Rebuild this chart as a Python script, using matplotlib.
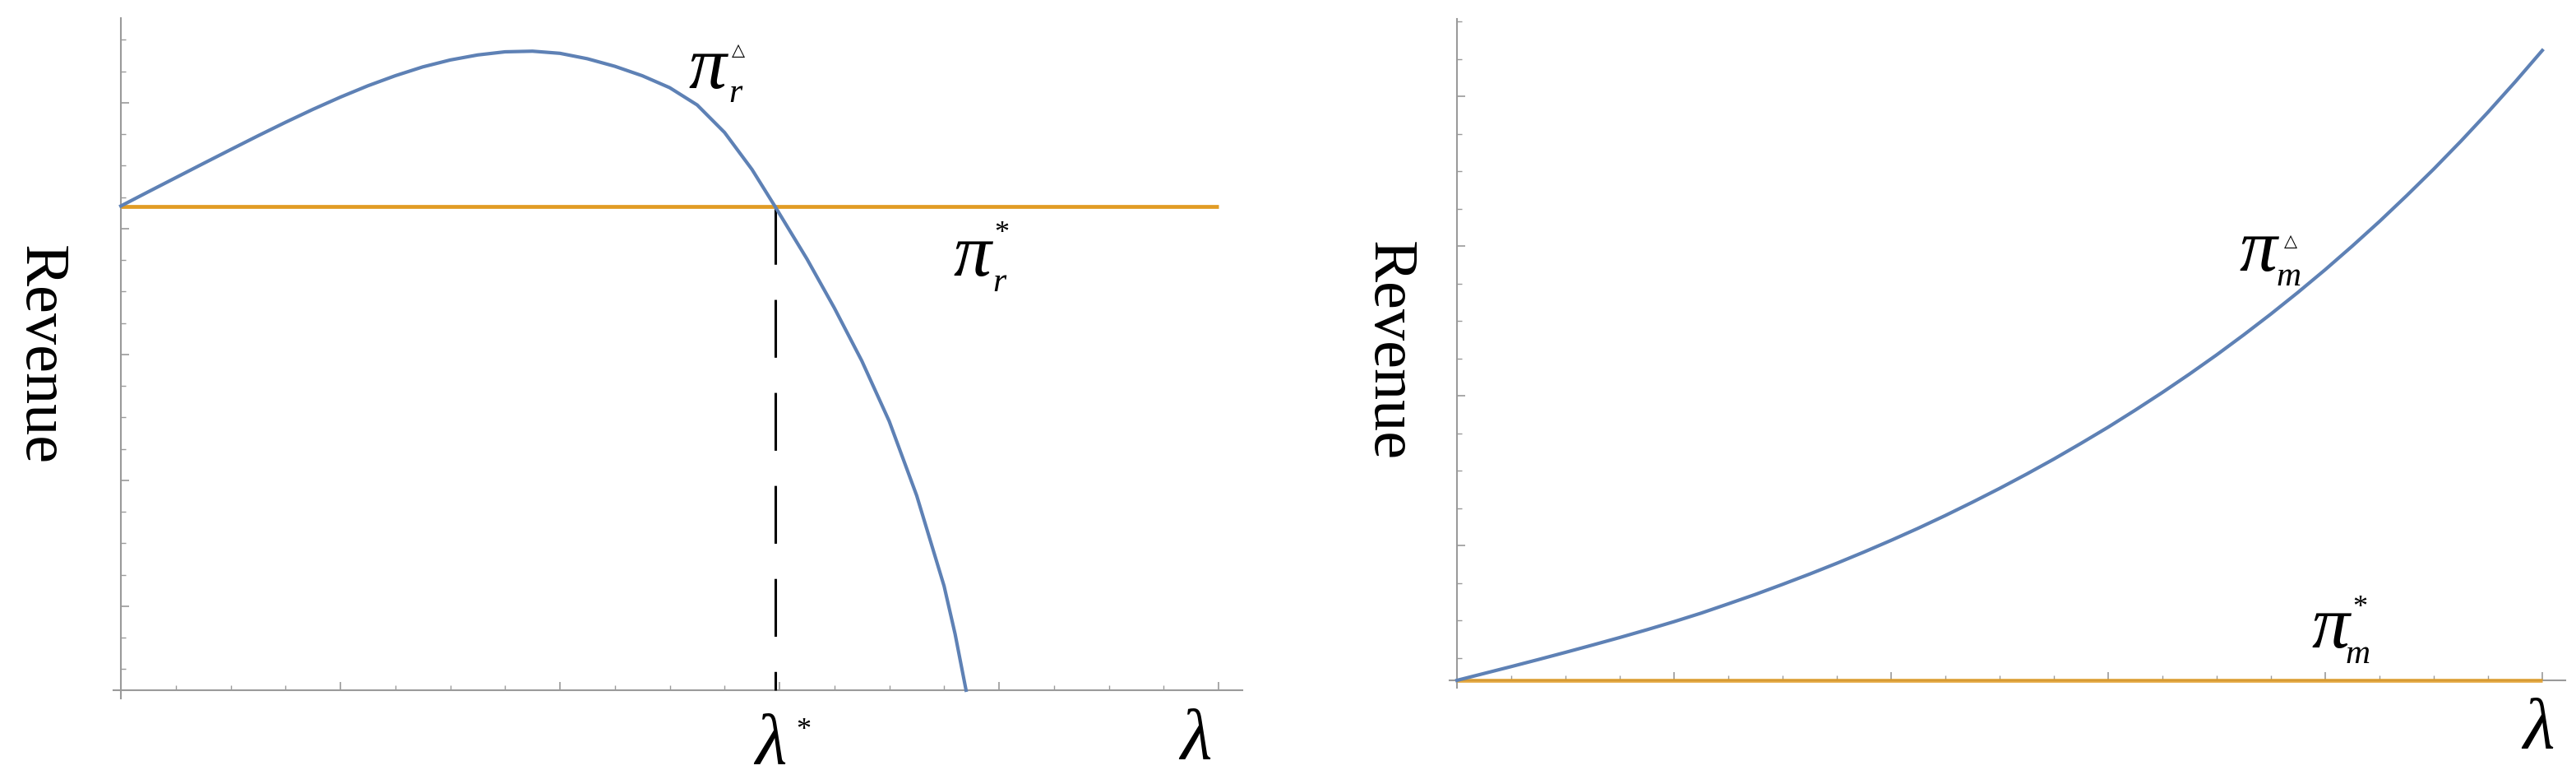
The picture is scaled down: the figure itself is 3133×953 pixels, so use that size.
import numpy as np
import matplotlib
matplotlib.use('Agg')
import matplotlib.pyplot as plt

# ---- data (lambda in tick units, revenue in tick units) ----
lam_left = [0, 0.125, 0.25, 0.375, 0.5, 0.625, 0.75, 0.875, 1.0, 1.125, 1.25, 1.375, 1.5,
            1.625, 1.75, 1.875, 2.0, 2.125, 2.25, 2.375, 2.5, 2.625, 2.75, 2.875, 2.98,
            3.125, 3.25, 3.375, 3.5, 3.625, 3.75, 3.8, 3.85]
pi_r_delta = [4.18, 4.293, 4.405, 4.517, 4.628, 4.738, 4.845, 4.948, 5.045, 5.135, 5.215,
              5.285, 5.34, 5.38, 5.405, 5.41, 5.393, 5.35, 5.29, 5.215, 5.12, 4.983, 4.764,
              4.47, 4.176, 3.76, 3.37, 2.95, 2.47, 1.88, 1.16, 0.78, 0.333]
pi_r_star = 4.176
lam_star = 2.98
left_origin = 0.333

lam_right = [0, 0.125, 0.25, 0.375, 0.5, 0.625, 0.75, 0.875, 1.0, 1.125, 1.25, 1.375, 1.5,
             1.625, 1.75, 1.875, 2.0, 2.125, 2.25, 2.375, 2.5, 2.625, 2.75, 2.875, 3.0,
             3.125, 3.25, 3.375, 3.5, 3.625, 3.75, 3.875, 4.0, 4.125, 4.25, 4.375, 4.5,
             4.625, 4.75, 4.875, 5.0]
pi_m_delta = [0.10, 0.146, 0.192, 0.239, 0.287, 0.336, 0.386, 0.438, 0.492, 0.549, 0.611,
              0.674, 0.741, 0.810, 0.882, 0.957, 1.035, 1.116, 1.201, 1.290, 1.382, 1.478,
              1.578, 1.683, 1.791, 1.905, 2.023, 2.146, 2.274, 2.408, 2.547, 2.692, 2.843,
              3.001, 3.165, 3.337, 3.515, 3.701, 3.895, 4.097, 4.307]
pi_m_star = 0.1
lam_max = 5.0

W, H = 3133, 954
BLUE = '#5E81B5'
ORANGE = '#E19C24'
AXIS = '#9a9a9a'
SERIF = ['Liberation Serif', 'DejaVu Serif']

fig = plt.figure(figsize=(W / 100, H / 100), dpi=100)


def make_axes(x0px, y0px, xu, yu, xlim, ylim, yorig):
    # x0px/y0px: pixel of the data origin (0, yorig); xu/yu: pixels per unit
    lpx = x0px + xlim[0] * xu
    rpx = x0px + xlim[1] * xu
    bpx = y0px - (ylim[0] - yorig) * yu
    tpx = y0px - (ylim[1] - yorig) * yu
    ax = fig.add_axes([lpx / W, (H - bpx) / H, (rpx - lpx) / W, (bpx - tpx) / H])
    ax.set_xlim(xlim)
    ax.set_ylim(ylim)
    ax.spines['top'].set_visible(False)
    ax.spines['right'].set_visible(False)
    ax.spines['left'].set_position(('data', 0))
    ax.spines['bottom'].set_position(('data', yorig))
    for s in ('left', 'bottom'):
        ax.spines[s].set_color(AXIS)
        ax.spines[s].set_linewidth(1.5)
    ax.tick_params(which='both', direction='in', colors=AXIS, labelbottom=False, labelleft=False)
    ax.tick_params(which='major', length=7, width=1.2)
    ax.tick_params(which='minor', length=4, width=1.0)
    ax.patch.set_visible(False)
    return ax


# ---- left panel: retailer ----
ax1 = make_axes(147, 840, 267, 153, (-0.035, 5.11), (0.27, 5.67), left_origin)
ax1.set_xticks(np.arange(1, 6))
ax1.set_xticks(np.arange(0.25, 5.01, 0.25), minor=True)
ax1.set_yticks(np.arange(1, 6))
ax1.set_yticks(np.arange(0.5, 5.6, 0.25), minor=True)
ax1.plot([0, lam_max], [pi_r_star, pi_r_star], color=ORANGE, lw=3.4, zorder=3, solid_capstyle='butt')
ax1.plot(lam_left, pi_r_delta, color=BLUE, lw=3.0, zorder=4, solid_joinstyle='round')
ax1.plot([lam_star, lam_star], [pi_r_star, left_origin], color='black', lw=2.2,
         linestyle=(0, (23, 14)), zorder=3)

# ---- right panel: manufacturer ----
ax2 = make_axes(1772, 828, 264, 182, (-0.035, 5.106), (0.05, 4.52), pi_m_star)
ax2.set_xticks(np.arange(1, 6))
ax2.set_xticks(np.arange(0.25, 5.01, 0.25), minor=True)
ax2.set_yticks(np.arange(1, 5))
ax2.set_yticks(np.arange(0.25, 4.51, 0.25), minor=True)
ax2.plot([0, lam_max], [pi_m_star, pi_m_star], color=ORANGE, lw=3.4, alpha=0.85, zorder=3,
         solid_capstyle='butt')
ax2.plot(lam_right, pi_m_delta, color=BLUE, lw=3.0, zorder=4, solid_joinstyle='round')


# ---- text (pixel positions in the figure) ----
def txt(x, y, s, size, va='baseline', ha='left', style='italic', rot=0):
    fig.text(x / W, 1 - y / H, s, fontsize=size, va=va, ha=ha, style=style,
             family=SERIF, rotation=rot)


def tri(x, y, size=15):
    fig.text(x / W, 1 - y / H, '\u25B3', fontsize=size, va='baseline', ha='center',
             family=['DejaVu Sans'])


txt(48, 432, 'Revenue', 55, va='center', ha='center', style='normal', rot=270)
txt(1688, 427, 'Revenue', 55, va='center', ha='center', style='normal', rot=270)

# pi_r^triangle
txt(838, 107, '\u03c0', 66)
txt(886, 124, 'r', 30)
tri(898, 67)
# pi_r^*
txt(1159, 335, '\u03c0', 66)
txt(1207, 354, 'r', 30)
txt(1218, 268, '*', 26, va='top', ha='center', style='normal')
# lambda^* and lambda
txt(918, 928, '\u03bb', 64)
txt(968, 872, '*', 26, va='top', style='normal')
txt(1435, 922, '\u03bb', 64)
# pi_m^triangle
txt(2723, 329, '\u03c0', 66)
txt(2768, 347, 'm', 30)
tri(2786, 299)
# pi_m^*
txt(2811, 787, '\u03c0', 66)
txt(2853, 806, 'm', 30)
txt(2870, 723, '*', 26, va='top', ha='center', style='normal')
txt(3068, 909, '\u03bb', 64)

fig.savefig('out.png', dpi=100, facecolor='white')
plt.close(fig)
